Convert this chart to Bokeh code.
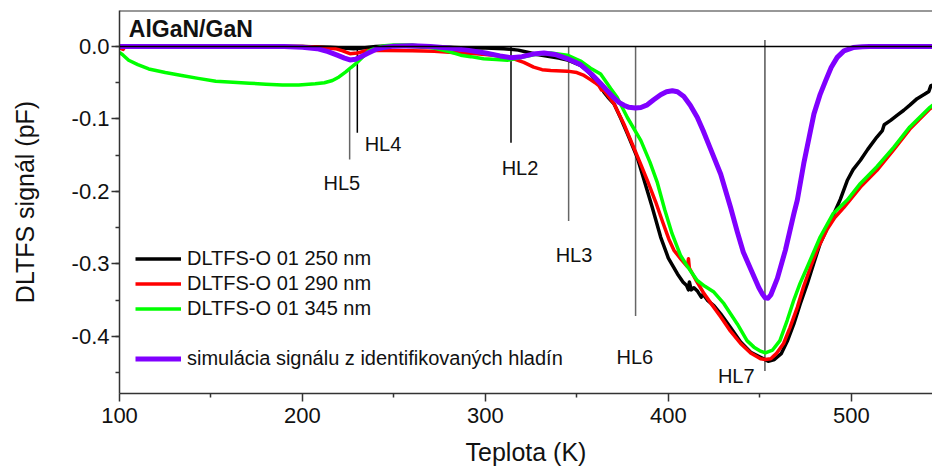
from bokeh.plotting import figure
from bokeh.models import (Range1d, FixedTicker, Span, Legend, LegendItem,
                          Label, ColumnDataSource)
from bokeh.core.properties import value
from bokeh.embed import file_html
from bokeh.resources import INLINE

FONT = "Liberation Sans"

# ---------------- data ----------------
t_250 = [100, 200, 215, 222, 228, 233, 240, 250, 260, 270, 280, 290, 300, 310, 318, 323, 328.4, 335, 340,
         345.5, 352, 356, 360, 362, 363, 364.8, 367, 370.3, 374, 377.6, 383, 388.5, 391.2, 395.8, 400, 405,
         408, 410, 411, 411.5, 412.5, 414, 416, 418, 419, 421.3, 425, 428.6, 434, 439.5, 445, 450.4, 454.6,
         458, 461.7, 465, 468.6, 472, 476, 479.5, 483, 487, 490.5, 494, 497.8, 501, 505, 509, 514, 517, 518,
         521.5, 525, 528.7, 532, 536, 540, 542.4, 543.5, 550]
s_250 = [0, 0, -0.001, -0.002, -0.003, -0.002, 0, 0.001, 0.0, -0.001, -0.001, -0.002, -0.002, -0.003, -0.005,
         -0.008, -0.011, -0.014, -0.016, -0.019, -0.026, -0.034, -0.046, -0.052, -0.055, -0.063, -0.070, -0.079,
         -0.099, -0.120, -0.153, -0.199, -0.222, -0.263, -0.292, -0.314, -0.325, -0.330, -0.336, -0.325, -0.336,
         -0.333, -0.338, -0.346, -0.342, -0.350, -0.358, -0.369, -0.388, -0.408, -0.422, -0.429, -0.4345,
         -0.432, -0.424, -0.407, -0.383, -0.356, -0.327, -0.299, -0.272, -0.250, -0.231, -0.211, -0.185, -0.170,
         -0.157, -0.142, -0.125, -0.116, -0.108, -0.102, -0.095, -0.088, -0.081, -0.072, -0.066, -0.062, -0.054,
         -0.050]

t_290 = [100, 101, 102, 103, 150, 200, 210, 218, 222, 226, 230, 235.5, 246, 260, 272, 286.5, 295, 304.5, 310,
         315.5, 321, 326.4, 331, 335.7, 344.8, 350, 353.9, 357, 360, 362, 363.5, 364.8, 367, 370.3, 375.7, 381,
         385, 389, 393, 397, 400.3, 403, 407, 410.4, 411, 411.5, 415, 419.5, 424, 428.6, 434, 439.5, 445, 450.4,
         453, 456, 459, 463, 466.5, 470.5, 474, 477.8, 482, 486.9, 491, 496, 505, 514, 523, 532, 543, 550]
s_290 = [0, -0.003, -0.004, 0, 0, 0, -0.001, -0.003, -0.006, -0.010, -0.009, -0.0055, -0.0055, -0.006,
         -0.0065, -0.009, -0.010, -0.012, -0.014, -0.017, -0.022, -0.0285, -0.032, -0.033, -0.034, -0.036,
         -0.040, -0.045, -0.050, -0.054, -0.060, -0.061, -0.068, -0.079, -0.107, -0.139, -0.163, -0.188, -0.214,
         -0.243, -0.266, -0.281, -0.294, -0.304, -0.293, -0.306, -0.322, -0.341, -0.357, -0.373, -0.393, -0.410,
         -0.423, -0.431, -0.432, -0.431, -0.424, -0.410, -0.388, -0.360, -0.331, -0.304, -0.277, -0.252, -0.236,
         -0.222, -0.194, -0.171, -0.143, -0.114, -0.086, -0.073]

t_345 = [100, 102, 105, 110, 116, 125, 134, 143, 152.6, 162, 171, 180, 189, 198, 207, 212, 216.4, 220, 223.7,
         226.5, 229, 232, 236, 240, 245, 250, 260, 271.7, 280, 286.5, 292, 299, 306, 312, 318, 326.4, 335.7,
         344.8, 352, 357.5, 363, 368.5, 372, 377.6, 385, 390, 394, 398, 402, 406.6, 410, 415.8, 420, 424.9,
         430.4, 434, 437.7, 443, 446.8, 450, 453, 457, 461, 465, 468.6, 472, 476, 483, 490, 497.8, 505, 514,
         523.3, 532, 543, 550]
s_345 = [-0.008, -0.012, -0.019, -0.025, -0.031, -0.036, -0.040, -0.044, -0.048, -0.0495, -0.0506, -0.052,
         -0.053, -0.053, -0.0515, -0.050, -0.047, -0.042, -0.035, -0.029, -0.024, -0.017, -0.0065, -0.002,
         0.001, 0.002, 0.002, -0.002, -0.007, -0.012, -0.014, -0.017, -0.018, -0.019, -0.016, -0.0115, -0.009,
         -0.012, -0.020, -0.030, -0.038, -0.058, -0.070, -0.098, -0.130, -0.160, -0.188, -0.225, -0.258, -0.288,
         -0.302, -0.323, -0.331, -0.339, -0.355, -0.369, -0.383, -0.406, -0.415, -0.420, -0.423, -0.419, -0.406,
         -0.378, -0.350, -0.327, -0.304, -0.263, -0.231, -0.212, -0.189, -0.166, -0.139, -0.111, -0.084, -0.070]

t_sim = [100, 150, 190, 200, 208, 214, 219, 223, 226, 229, 232, 236, 240, 245, 250, 260, 270, 280, 290, 300,
         308, 314, 320, 326, 332, 338, 345, 352, 358, 363, 367, 370.3, 373, 375.7, 378.5, 382, 385, 388.5,
         392, 395.8, 399, 402.2, 405, 408.5, 412, 415.8, 419, 423, 428.6, 434, 437.7, 441, 445, 449.5, 451.5,
         453, 454.5, 456, 459.6, 464, 468.6, 470.5, 474, 477, 479.6, 483, 486, 489, 492.3, 496, 501, 506, 510, 550]
s_sim = [0, 0, 0, -0.001, -0.003, -0.007, -0.012, -0.016, -0.0185, -0.0175, -0.014, -0.009, -0.004, -0.001,
         0.0005, 0.001, 0.0, -0.002, -0.005, -0.009, -0.013, -0.0155, -0.014, -0.0105, -0.009, -0.011, -0.017,
         -0.025, -0.038, -0.051, -0.062, -0.071, -0.077, -0.081, -0.084, -0.085, -0.0842, -0.0805, -0.0735,
         -0.0665, -0.0625, -0.061, -0.0625, -0.069, -0.081, -0.0975, -0.116, -0.141, -0.176, -0.222, -0.256,
         -0.284, -0.307, -0.333, -0.342, -0.347, -0.3475, -0.343, -0.320, -0.281, -0.231, -0.212, -0.162, -0.125,
         -0.093, -0.066, -0.047, -0.029, -0.015, -0.006, -0.0015, -0.0003, 0, 0]

series_names = ["DLTFS-O 01 250 nm", "DLTFS-O 01 290 nm", "DLTFS-O 01 345 nm",
                "simulácia signálu z identifikovaných hladín"]
series_colors = ["#000000", "#ff0000", "#00ff00", "#8000ff"]

# deep levels: name, temperature (K), marker line from / to (pF)
hl_names = ["HL5", "HL4", "HL2", "HL3", "HL6", "HL7"]
hl_temp = [225.8, 230.0, 314.0, 345.5, 382.1, 452.8]
hl_top = [-0.030, 0.0, 0.0, 0.0, 0.0, 0.009]
hl_bottom = [-0.156, -0.119, -0.133, -0.241, -0.372, -0.448]
hl_label_x = [211.5, 234.0, 308.9, 338.4, 371.7, 427.1]
hl_label_y = [-0.189, -0.135, -0.168, -0.288, -0.428, -0.455]
hl_colors = ["#666666", "#000000", "#000000", "#666666", "#666666", "#555555"]

x_ticks = [100, 200, 300, 400, 500]
x_minor = [150, 250, 350, 450, 550]
y_ticks = [0.0, -0.1, -0.2, -0.3, -0.4]
y_tick_labels = ["0.0", "-0.1", "-0.2", "-0.3", "-0.4"]
y_minor = [0.0, -0.05, -0.1, -0.15, -0.2, -0.25, -0.3, -0.35, -0.4, -0.45]

# ---------------- figure ----------------
p = figure(width=932, height=472, output_backend="svg", toolbar_location=None, title=None,
           x_range=Range1d(100, 544.4), y_range=Range1d(-0.479, 0.0497),
           min_border_left=119, min_border_right=0, min_border_top=10, min_border_bottom=79)
p.outline_line_color = None
p.xgrid.visible = False
p.ygrid.visible = False
p.background_fill_color = "white"

AX = "#333333"
for ax in (p.xaxis[0], p.yaxis[0]):
    ax.axis_line_color = AX
    ax.axis_line_width = 1.5
    ax.major_tick_line_color = AX
    ax.minor_tick_line_color = AX
    ax.major_tick_line_width = 1.5
    ax.minor_tick_line_width = 1.5
    ax.major_tick_out = 8
    ax.major_tick_in = 0
    ax.minor_tick_out = 4
    ax.minor_tick_in = 0
    ax.major_label_text_font = FONT
    ax.major_label_text_font_size = "22px"
    ax.major_label_text_color = "#111111"
    ax.axis_label_text_font = FONT
    ax.axis_label_text_font_size = "25px"
    ax.axis_label_text_font_style = "normal"
    ax.axis_label_text_color = "#111111"

p.xaxis[0].ticker = FixedTicker(ticks=x_ticks, minor_ticks=x_minor)
p.xaxis[0].axis_label = "Teplota (K)"
p.xaxis[0].major_label_standoff = 6
p.xaxis[0].axis_label_standoff = 12

p.yaxis[0].ticker = FixedTicker(ticks=y_ticks, minor_ticks=y_minor)
p.yaxis[0].major_label_overrides = {t: s for t, s in zip(y_ticks, y_tick_labels)}
p.yaxis[0].axis_label = "DLTFS signál (pF)"
p.yaxis[0].major_label_standoff = 2
p.yaxis[0].axis_label_standoff = 30

# top frame border and zero line
p.add_layout(Span(location=0.0497, dimension="width", line_color=AX, line_width=2))
p.add_layout(Span(location=0, dimension="width", line_color="#000000", line_width=1.5))

# deep level markers
hl_src = ColumnDataSource(dict(x=hl_temp, y0=hl_top, y1=hl_bottom, c=hl_colors,
                               lx=hl_label_x, ly=hl_label_y, name=hl_names))
p.segment(x0="x", y0="y0", x1="x", y1="y1", line_color="c", line_width=1.5, source=hl_src)
p.text(x="lx", y="ly", text="name", source=hl_src, text_font=value(FONT), text_font_size="20px",
       text_baseline="middle", text_align="left", text_color="#111111")

renderers = []
for t, s, c, w in zip([t_250, t_290, t_345, t_sim], [s_250, s_290, s_345, s_sim],
                      series_colors, [3.5, 3.5, 3.5, 5]):
    renderers.append(p.line(t, s, line_color=c, line_width=w, line_join="round"))

def make_legend(items, loc):
    return Legend(items=items, location=loc, orientation="vertical",
                  glyph_width=46, glyph_height=25, label_height=25, label_standoff=6,
                  spacing=0, padding=0, margin=0,
                  label_text_font=FONT, label_text_font_size="20px", label_text_color="#111111",
                  background_fill_alpha=0, border_line_color=None)

lg1 = make_legend([LegendItem(label=series_names[i], renderers=[renderers[i]]) for i in range(3)], (16, 72))
lg2 = make_legend([LegendItem(label=series_names[3], renderers=[renderers[3]])], (16, 22))
p.add_layout(lg1, "center")
p.add_layout(lg2, "center")

p.add_layout(Label(x=105.1, y=0.024, text="AlGaN/GaN", text_font=FONT, text_font_size="23px",
                   text_font_style="bold", text_baseline="middle", text_color="#111111"))

open("out.html", "w").write(file_html(p, INLINE))
